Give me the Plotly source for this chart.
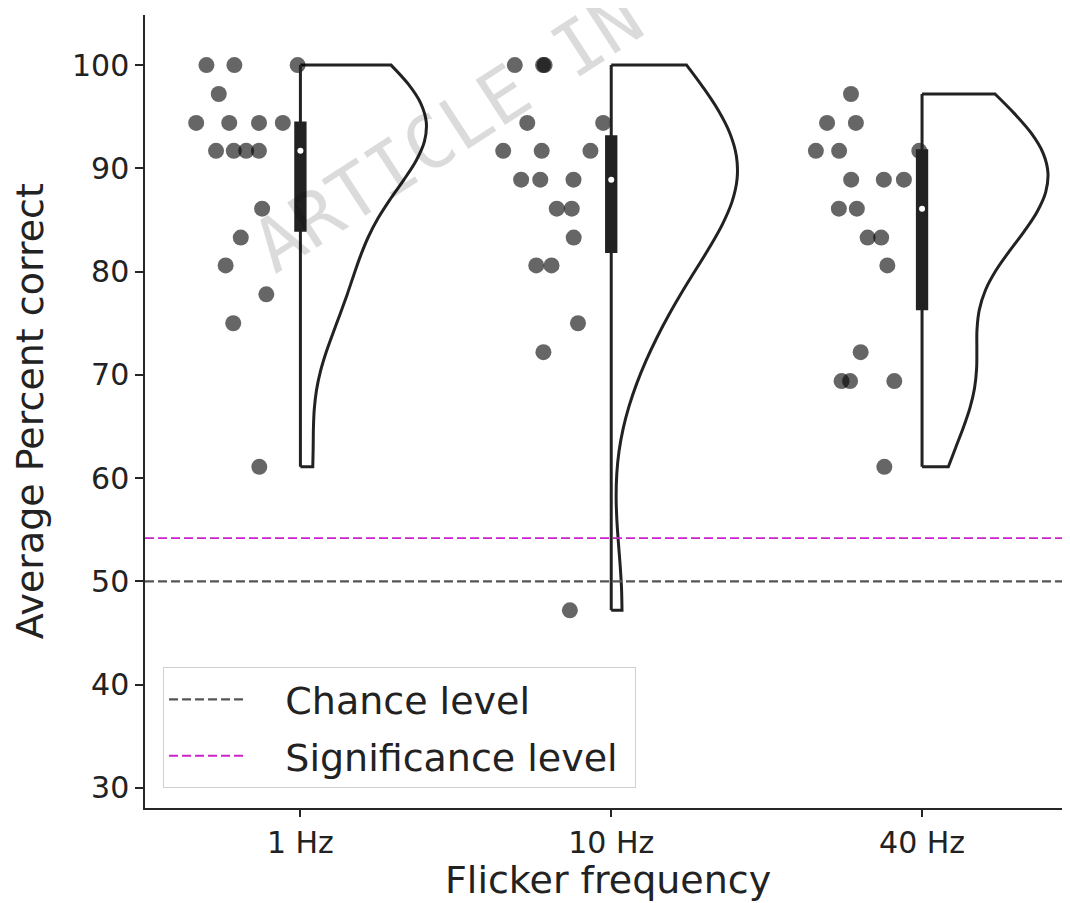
import numpy as np
import plotly.graph_objects as go

# ---------------- data ----------------
categories = ["1 Hz", "10 Hz", "40 Hz"]
scores_1hz = [100.0, 100.0, 100.0, 97.2, 94.4, 94.4, 94.4, 94.4, 91.7, 91.7, 91.7, 91.7,
              86.1, 83.3, 80.6, 77.8, 75.0, 61.1]
scores_10hz = [100.0, 100.0, 100.0, 94.4, 94.4, 91.7, 91.7, 91.7, 88.9, 88.9, 88.9,
               86.1, 86.1, 83.3, 80.6, 80.6, 75.0, 72.2, 47.2]
scores_40hz = [97.2, 94.4, 94.4, 91.7, 91.7, 91.7, 88.9, 88.9, 88.9, 86.1, 86.1,
               83.3, 83.3, 80.6, 72.2, 69.4, 69.4, 69.4, 61.1]
chance_level = 50.0
significance_level = 54.2
y_ticks = [30, 40, 50, 60, 70, 80, 90, 100]

all_scores = [scores_1hz, scores_10hz, scores_40hz]

TXT = "#222222"
FONT = "DejaVu Sans"
NB = "\u00a0"
EDGE = "#222222"

fig = go.Figure()

# half violins with jittered points (rain cloud)
for cat, vals in zip(categories, all_scores):
    arr = np.asarray(vals)
    bw = arr.std(ddof=1) * len(arr) ** (-1 / 5)  # Scott's rule
    fig.add_trace(go.Violin(
        x=[cat] * len(vals), y=vals,
        side="positive", width=0.81, scalemode="width", spanmode="hard",
        bandwidth=bw,
        fillcolor="white", line=dict(color=EDGE, width=3),
        points="all", pointpos=-0.42, jitter=0.45,
        marker=dict(color="black", opacity=0.6, size=16, line=dict(width=0)),
        box_visible=False, meanline_visible=False,
        showlegend=False, hoverinfo="y",
    ))

# thin inner box; whiskers span the full data range (= straight violin edge)
q1 = [float(np.percentile(v, 25)) for v in all_scores]
q3 = [float(np.percentile(v, 75)) for v in all_scores]
med = [float(np.median(v)) for v in all_scores]
lo = [float(np.min(v)) for v in all_scores]
hi = [float(np.max(v)) for v in all_scores]
fig.add_trace(go.Box(
    x=categories, q1=q1, median=med, q3=q3, lowerfence=lo, upperfence=hi,
    width=0.03, whiskerwidth=0,
    fillcolor=EDGE, line=dict(color=EDGE, width=3),
    showlegend=False, hoverinfo="skip",
))

# median dots
fig.add_trace(go.Scatter(
    x=categories, y=med,
    mode="markers", marker=dict(color="white", size=6, line=dict(width=0)),
    showlegend=False, hoverinfo="skip",
))

# reference lines
fig.add_hline(y=chance_level, line=dict(color="#555555", width=2.2, dash="9px,4px"), layer="above")
fig.add_hline(y=significance_level, line=dict(color="#cc22cc", width=1.8, dash="9px,4px"), layer="above")

# legend entries
fig.add_trace(go.Scatter(x=[None], y=[None], mode="lines", name=NB * 3 + "Chance level",
                         legendgroup="a",
                         line=dict(color="#555555", width=2.2, dash="9px,4px")))
fig.add_trace(go.Scatter(x=[None], y=[None], mode="lines",
                         name=NB * 3 + "Significance level" + NB,
                         legendgroup="b",
                         line=dict(color="#cc22cc", width=1.8, dash="9px,4px")))

# page body has an 8px margin: compensate so the plot lands where intended
fig.update_layout(
    width=1062, height=895,
    margin=dict(l=137, r=0, t=7, b=95),
    plot_bgcolor="white", paper_bgcolor="white",
    violinmode="overlay", boxmode="overlay",
    font=dict(family=FONT, color=TXT),
    legend=dict(
        x=0.0195, y=0.025, xanchor="left", yanchor="bottom",
        bgcolor="rgba(255,255,255,0.8)", bordercolor="#d0d0d0", borderwidth=1,
        font=dict(family=FONT, size=38, color=TXT),
        itemwidth=75, traceorder="grouped", tracegroupgap=4,
    ),
    xaxis=dict(
        type="category", categoryorder="array", categoryarray=categories,
        range=[-0.5, 2.476], showgrid=False, zeroline=False,
        showline=True, linecolor="#262626", linewidth=1.5,
        ticks="outside", ticklen=7, tickwidth=1.5, tickcolor="#262626",
        tickfont=dict(family=FONT, size=30, color=TXT),
    ),
    yaxis=dict(
        range=[28.06, 104.85], tickvals=y_ticks, showgrid=False, zeroline=False,
        showline=True, linecolor="#262626", linewidth=1.5,
        ticks="outside", ticklen=8, tickwidth=1.5, tickcolor="#262626",
        tickfont=dict(family=FONT, size=30, color=TXT),
    ),
    annotations=[
        dict(text="Average Percent correct", xref="paper", yref="paper",
             x=-0.1245, y=0.5, xanchor="center", yanchor="middle", textangle=-90,
             showarrow=False, font=dict(family=FONT, size=38, color=TXT)),
        dict(text="Flicker frequency", xref="paper", yref="paper",
             x=0.5, y=-0.0908, xanchor="center", yanchor="middle",
             showarrow=False, font=dict(family=FONT, size=38, color=TXT)),
        dict(text="ARTICLE IN PRESS", xref="paper", yref="paper",
             x=0.4476, y=0.945, xanchor="center", yanchor="middle", textangle=-33,
             showarrow=False, font=dict(family="DejaVu Sans Mono", size=74,
                                        color="rgba(0,0,0,0.14)")),
    ],
)

fig.write_html("out.html")
